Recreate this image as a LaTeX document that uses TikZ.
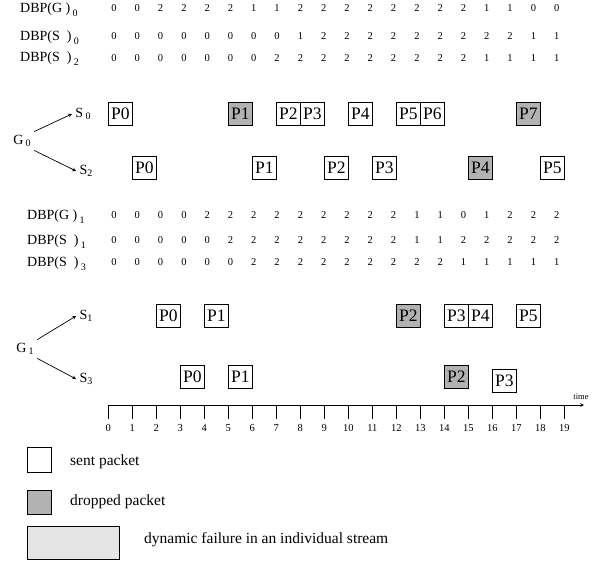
\documentclass[tikz,border=0pt]{standalone}
\usepackage{fontspec}
\setmainfont{Liberation Serif}
\usetikzlibrary{arrows}
\definecolor{dropgray}{gray}{0.70}
\definecolor{failgray}{gray}{0.90}
\newcommand{\lowsub}[2][-2.5pt]{\raisebox{#1}{\fontsize{10}{10}\selectfont #2}}
\newcommand{\packet}[4]{%
  \node[pkt] (#1) at ({120.3+24*#2},#3) {#4}}
\newcommand{\droppacket}[4]{%
  \node[pkt, fill=dropgray] (#1) at ({120.3+24*#2},#3) {#4}}
\newcommand{\dbprow}[3]{%
  \foreach \v [count=\i from 0] in {#3}
    \node[num] (#1-\i) at ({114+23.3*\i},#2) {\v};}

\begin{document}
\begin{tikzpicture}[x=1pt, y=-1pt,
    font=\fontsize{14}{16}\selectfont,
    num/.style={font=\fontsize{10.5}{12}\selectfont, inner sep=0},
    lbl/.style={anchor=base west, inner sep=0},
    key/.style={inner sep=0, anchor=west, font=\fontsize{15.5}{17}\selectfont},
    pkt/.style={draw, line width=0.8pt, minimum width=24, minimum height=23,
    inner sep=0, font=\fontsize{17.5}{18}\selectfont}, >=stealth]
  \useasboundingbox (0,0) rectangle (596,565);

  % first group
  \node[lbl] (lg0) at (20,12) {DBP(G~)\,\lowsub[-4pt]{0}};
  \node[lbl] (ls0) at (20,40) {DBP(S~~)\,\lowsub[-4pt]{0}};
  \node[lbl] (ls2) at (20,61) {DBP(S~~)\,\lowsub[-4pt]{2}};
  \dbprow{dg0}{8}{0,0,2,2,2,2,1,1,2,2,2,2,2,2,2,2,1,1,0,0}
  \dbprow{ds0}{36}{0,0,0,0,0,0,0,0,1,2,2,2,2,2,2,2,2,2,1,1}
  \dbprow{ds2}{58}{0,0,0,0,0,0,0,2,2,2,2,2,2,2,2,2,1,1,1,1}

  \node (g0) at (22,141) {G\,\lowsub{0}};
  \node (s0) at (83,114) {S\,\lowsub{0}};
  \node (s2) at (86,171) {S\lowsub{2}};
  \draw[->, line width=0.7pt] (g0.north east) -- (s0.west);
  \draw[->, line width=0.7pt] (g0.south east) -- (s2.west);

  \packet{a0}{0}{114}{P0};
  \droppacket{a1}{5}{114}{P1};
  \packet{a2}{7}{114}{P2};
  \packet{a3}{8}{114}{P3};
  \packet{a4}{10}{114}{P4};
  \packet{a5}{12}{114}{P5};
  \packet{a6}{13}{114}{P6};
  \droppacket{a7}{17}{114}{P7};

  \packet{b0}{1}{168}{P0};
  \packet{b1}{6}{168}{P1};
  \packet{b2}{9}{168}{P2};
  \packet{b3}{11}{168}{P3};
  \droppacket{b4}{15}{168}{P4};
  \packet{b5}{18}{168}{P5};

  % second group
  \node[lbl] (lg1) at (27,219) {DBP(G~)\,\lowsub[-4pt]{1}};
  \node[lbl] (ls1) at (27,244) {DBP(S~~)\,\lowsub[-4pt]{1}};
  \node[lbl] (ls3) at (27,266) {DBP(S~~)\,\lowsub[-4pt]{3}};
  \dbprow{dg1}{215}{0,0,0,0,2,2,2,2,2,2,2,2,2,1,1,0,1,2,2,2}
  \dbprow{ds1}{240}{0,0,0,0,0,2,2,2,2,2,2,2,2,1,1,2,2,2,2,2}
  \dbprow{ds3}{262}{0,0,0,0,0,0,2,2,2,2,2,2,2,2,2,1,1,1,1,1}

  \node (g1) at (25,349) {G\,\lowsub{1}};
  \node (s1) at (86,316) {S\lowsub{1}};
  \node (s3) at (86,379) {S\lowsub{3}};
  \draw[->, line width=0.7pt] (g1.north east) -- (s1.west);
  \draw[->, line width=0.7pt] (g1.south east) -- (s3.west);

  \packet{c0}{2}{316}{P0};
  \packet{c1}{4}{316}{P1};
  \droppacket{c2}{12}{316}{P2};
  \packet{c3}{14}{316}{P3};
  \packet{c4}{15}{316}{P4};
  \packet{c5}{17}{316}{P5};

  \packet{d0}{3}{377}{P0};
  \packet{d1}{5}{377}{P1};
  \droppacket{d2}{14}{377}{P2};
  \packet{d3}{16}{381}{P3};

  % time axis
  \coordinate (ax0) at (108.3,405);
  \coordinate (ax1) at (584,405);
  \draw[->, line width=0.7pt] (ax0) -- (ax1);
  \node[font=\fontsize{8.5}{9}\selectfont, inner sep=0] (time) at (581,397) {time};
  \foreach \i in {0,...,19}
    \draw[line width=0.7pt] ({108.3+24*\i},405) -- ++(0,14)
      node[num, below=5pt] (t\i) {\i};

  % legend
  \node[pkt, minimum height=25] (sentkey) at (39,459.5) {};
  \node[key] (senttxt) at (70,462) {sent packet};
  \node[pkt, fill=dropgray, minimum height=24] (dropkey) at (39,502) {};
  \node[key] (droptxt) at (70,502) {dropped packet};
  \node[pkt, fill=failgray, minimum width=92, minimum height=33] (failkey) at (73,542.5) {};
  \node[key] (failtxt) at (144,540) {dynamic failure in an individual stream};
\end{tikzpicture}
\end{document}
